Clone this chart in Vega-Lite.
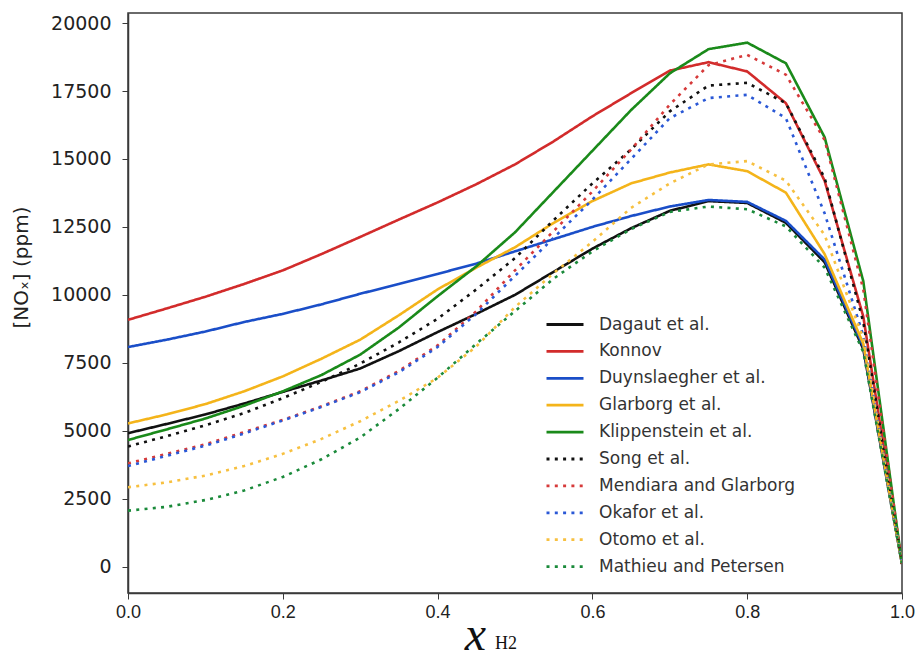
{
"$schema": "https://vega.github.io/schema/vega-lite/v6.json",
"width": 774, "height": 580,
"autosize": {"type": "none"},
"padding": {"left": 128, "top": 13, "right": 19, "bottom": 66},
"background": "white",
"config": {"view": {"stroke": "#3a3a3a", "strokeWidth": 1.5}, "axis": {"grid": false}},
"title": {"text": "H2", "orient": "bottom", "anchor": "start", "frame": "group", "dx": 367, "offset": -24, "font": "Liberation Serif", "fontSize": 18, "fontWeight": "normal", "color": "#111"},
"datasets": {"d": [
{"m":"Dagaut et al.","x":0,"y":4910},{"m":"Dagaut et al.","x":0.05,"y":5250},{"m":"Dagaut et al.","x":0.1,"y":5600},{"m":"Dagaut et al.","x":0.15,"y":6000},{"m":"Dagaut et al.","x":0.2,"y":6430},{"m":"Dagaut et al.","x":0.25,"y":6850},{"m":"Dagaut et al.","x":0.3,"y":7290},{"m":"Dagaut et al.","x":0.35,"y":7930},{"m":"Dagaut et al.","x":0.4,"y":8630},{"m":"Dagaut et al.","x":0.45,"y":9300},{"m":"Dagaut et al.","x":0.5,"y":10000},{"m":"Dagaut et al.","x":0.55,"y":10850},{"m":"Dagaut et al.","x":0.6,"y":11700},{"m":"Dagaut et al.","x":0.65,"y":12450},{"m":"Dagaut et al.","x":0.7,"y":13090},{"m":"Dagaut et al.","x":0.75,"y":13450},{"m":"Dagaut et al.","x":0.8,"y":13380},{"m":"Dagaut et al.","x":0.85,"y":12650},{"m":"Dagaut et al.","x":0.9,"y":11200},{"m":"Dagaut et al.","x":0.95,"y":8000},{"m":"Dagaut et al.","x":1,"y":100},
{"m":"Konnov","x":0,"y":9080},{"m":"Konnov","x":0.05,"y":9500},{"m":"Konnov","x":0.1,"y":9930},{"m":"Konnov","x":0.15,"y":10400},{"m":"Konnov","x":0.2,"y":10900},{"m":"Konnov","x":0.25,"y":11500},{"m":"Konnov","x":0.3,"y":12130},{"m":"Konnov","x":0.35,"y":12770},{"m":"Konnov","x":0.4,"y":13400},{"m":"Konnov","x":0.45,"y":14070},{"m":"Konnov","x":0.5,"y":14800},{"m":"Konnov","x":0.55,"y":15650},{"m":"Konnov","x":0.6,"y":16570},{"m":"Konnov","x":0.65,"y":17420},{"m":"Konnov","x":0.7,"y":18250},{"m":"Konnov","x":0.75,"y":18560},{"m":"Konnov","x":0.8,"y":18220},{"m":"Konnov","x":0.85,"y":17050},{"m":"Konnov","x":0.9,"y":14200},{"m":"Konnov","x":0.95,"y":9200},{"m":"Konnov","x":1,"y":100},
{"m":"Duynslaegher et al.","x":0,"y":8080},{"m":"Duynslaegher et al.","x":0.05,"y":8350},{"m":"Duynslaegher et al.","x":0.1,"y":8650},{"m":"Duynslaegher et al.","x":0.15,"y":9000},{"m":"Duynslaegher et al.","x":0.2,"y":9300},{"m":"Duynslaegher et al.","x":0.25,"y":9650},{"m":"Duynslaegher et al.","x":0.3,"y":10040},{"m":"Duynslaegher et al.","x":0.35,"y":10400},{"m":"Duynslaegher et al.","x":0.4,"y":10770},{"m":"Duynslaegher et al.","x":0.45,"y":11150},{"m":"Duynslaegher et al.","x":0.5,"y":11600},{"m":"Duynslaegher et al.","x":0.55,"y":12050},{"m":"Duynslaegher et al.","x":0.6,"y":12500},{"m":"Duynslaegher et al.","x":0.65,"y":12900},{"m":"Duynslaegher et al.","x":0.7,"y":13250},{"m":"Duynslaegher et al.","x":0.75,"y":13490},{"m":"Duynslaegher et al.","x":0.8,"y":13420},{"m":"Duynslaegher et al.","x":0.85,"y":12720},{"m":"Duynslaegher et al.","x":0.9,"y":11300},{"m":"Duynslaegher et al.","x":0.95,"y":8100},{"m":"Duynslaegher et al.","x":1,"y":100},
{"m":"Glarborg et al.","x":0,"y":5270},{"m":"Glarborg et al.","x":0.05,"y":5600},{"m":"Glarborg et al.","x":0.1,"y":5980},{"m":"Glarborg et al.","x":0.15,"y":6450},{"m":"Glarborg et al.","x":0.2,"y":7000},{"m":"Glarborg et al.","x":0.25,"y":7650},{"m":"Glarborg et al.","x":0.3,"y":8350},{"m":"Glarborg et al.","x":0.35,"y":9250},{"m":"Glarborg et al.","x":0.4,"y":10200},{"m":"Glarborg et al.","x":0.45,"y":11000},{"m":"Glarborg et al.","x":0.5,"y":11750},{"m":"Glarborg et al.","x":0.55,"y":12650},{"m":"Glarborg et al.","x":0.6,"y":13450},{"m":"Glarborg et al.","x":0.65,"y":14100},{"m":"Glarborg et al.","x":0.7,"y":14500},{"m":"Glarborg et al.","x":0.75,"y":14800},{"m":"Glarborg et al.","x":0.8,"y":14550},{"m":"Glarborg et al.","x":0.85,"y":13760},{"m":"Glarborg et al.","x":0.9,"y":11500},{"m":"Glarborg et al.","x":0.95,"y":8200},{"m":"Glarborg et al.","x":1,"y":100},
{"m":"Klippenstein et al.","x":0,"y":4660},{"m":"Klippenstein et al.","x":0.05,"y":5050},{"m":"Klippenstein et al.","x":0.1,"y":5450},{"m":"Klippenstein et al.","x":0.15,"y":5920},{"m":"Klippenstein et al.","x":0.2,"y":6450},{"m":"Klippenstein et al.","x":0.25,"y":7050},{"m":"Klippenstein et al.","x":0.3,"y":7800},{"m":"Klippenstein et al.","x":0.35,"y":8800},{"m":"Klippenstein et al.","x":0.4,"y":9950},{"m":"Klippenstein et al.","x":0.45,"y":11050},{"m":"Klippenstein et al.","x":0.5,"y":12300},{"m":"Klippenstein et al.","x":0.55,"y":13800},{"m":"Klippenstein et al.","x":0.6,"y":15300},{"m":"Klippenstein et al.","x":0.65,"y":16800},{"m":"Klippenstein et al.","x":0.7,"y":18150},{"m":"Klippenstein et al.","x":0.75,"y":19040},{"m":"Klippenstein et al.","x":0.8,"y":19280},{"m":"Klippenstein et al.","x":0.85,"y":18520},{"m":"Klippenstein et al.","x":0.9,"y":15800},{"m":"Klippenstein et al.","x":0.95,"y":10500},{"m":"Klippenstein et al.","x":1,"y":100},
{"m":"Song et al.","x":0,"y":4420},{"m":"Song et al.","x":0.05,"y":4800},{"m":"Song et al.","x":0.1,"y":5200},{"m":"Song et al.","x":0.15,"y":5650},{"m":"Song et al.","x":0.2,"y":6200},{"m":"Song et al.","x":0.25,"y":6800},{"m":"Song et al.","x":0.3,"y":7470},{"m":"Song et al.","x":0.35,"y":8250},{"m":"Song et al.","x":0.4,"y":9120},{"m":"Song et al.","x":0.45,"y":10200},{"m":"Song et al.","x":0.5,"y":11350},{"m":"Song et al.","x":0.55,"y":12750},{"m":"Song et al.","x":0.6,"y":14100},{"m":"Song et al.","x":0.65,"y":15350},{"m":"Song et al.","x":0.7,"y":16750},{"m":"Song et al.","x":0.75,"y":17700},{"m":"Song et al.","x":0.8,"y":17800},{"m":"Song et al.","x":0.85,"y":17050},{"m":"Song et al.","x":0.9,"y":14300},{"m":"Song et al.","x":0.95,"y":9000},{"m":"Song et al.","x":1,"y":100},
{"m":"Mendiara and Glarborg","x":0,"y":3800},{"m":"Mendiara and Glarborg","x":0.05,"y":4150},{"m":"Mendiara and Glarborg","x":0.1,"y":4500},{"m":"Mendiara and Glarborg","x":0.15,"y":4950},{"m":"Mendiara and Glarborg","x":0.2,"y":5400},{"m":"Mendiara and Glarborg","x":0.25,"y":5900},{"m":"Mendiara and Glarborg","x":0.3,"y":6450},{"m":"Mendiara and Glarborg","x":0.35,"y":7200},{"m":"Mendiara and Glarborg","x":0.4,"y":8140},{"m":"Mendiara and Glarborg","x":0.45,"y":9400},{"m":"Mendiara and Glarborg","x":0.5,"y":10900},{"m":"Mendiara and Glarborg","x":0.55,"y":12350},{"m":"Mendiara and Glarborg","x":0.6,"y":13800},{"m":"Mendiara and Glarborg","x":0.65,"y":15350},{"m":"Mendiara and Glarborg","x":0.7,"y":17000},{"m":"Mendiara and Glarborg","x":0.75,"y":18450},{"m":"Mendiara and Glarborg","x":0.8,"y":18830},{"m":"Mendiara and Glarborg","x":0.85,"y":18100},{"m":"Mendiara and Glarborg","x":0.9,"y":15700},{"m":"Mendiara and Glarborg","x":0.95,"y":10200},{"m":"Mendiara and Glarborg","x":1,"y":100},
{"m":"Okafor et al.","x":0,"y":3700},{"m":"Okafor et al.","x":0.05,"y":4080},{"m":"Okafor et al.","x":0.1,"y":4450},{"m":"Okafor et al.","x":0.15,"y":4900},{"m":"Okafor et al.","x":0.2,"y":5380},{"m":"Okafor et al.","x":0.25,"y":5880},{"m":"Okafor et al.","x":0.3,"y":6420},{"m":"Okafor et al.","x":0.35,"y":7150},{"m":"Okafor et al.","x":0.4,"y":8080},{"m":"Okafor et al.","x":0.45,"y":9300},{"m":"Okafor et al.","x":0.5,"y":10700},{"m":"Okafor et al.","x":0.55,"y":12100},{"m":"Okafor et al.","x":0.6,"y":13500},{"m":"Okafor et al.","x":0.65,"y":15000},{"m":"Okafor et al.","x":0.7,"y":16500},{"m":"Okafor et al.","x":0.75,"y":17240},{"m":"Okafor et al.","x":0.8,"y":17360},{"m":"Okafor et al.","x":0.85,"y":16500},{"m":"Okafor et al.","x":0.9,"y":13000},{"m":"Okafor et al.","x":0.95,"y":8500},{"m":"Okafor et al.","x":1,"y":100},
{"m":"Otomo et al.","x":0,"y":2920},{"m":"Otomo et al.","x":0.05,"y":3100},{"m":"Otomo et al.","x":0.1,"y":3350},{"m":"Otomo et al.","x":0.15,"y":3700},{"m":"Otomo et al.","x":0.2,"y":4150},{"m":"Otomo et al.","x":0.25,"y":4700},{"m":"Otomo et al.","x":0.3,"y":5350},{"m":"Otomo et al.","x":0.35,"y":6100},{"m":"Otomo et al.","x":0.4,"y":6950},{"m":"Otomo et al.","x":0.45,"y":8100},{"m":"Otomo et al.","x":0.5,"y":9550},{"m":"Otomo et al.","x":0.55,"y":10800},{"m":"Otomo et al.","x":0.6,"y":11950},{"m":"Otomo et al.","x":0.65,"y":13200},{"m":"Otomo et al.","x":0.7,"y":14100},{"m":"Otomo et al.","x":0.75,"y":14800},{"m":"Otomo et al.","x":0.8,"y":14920},{"m":"Otomo et al.","x":0.85,"y":14200},{"m":"Otomo et al.","x":0.9,"y":12200},{"m":"Otomo et al.","x":0.95,"y":8400},{"m":"Otomo et al.","x":1,"y":100},
{"m":"Mathieu and Petersen","x":0,"y":2060},{"m":"Mathieu and Petersen","x":0.05,"y":2200},{"m":"Mathieu and Petersen","x":0.1,"y":2450},{"m":"Mathieu and Petersen","x":0.15,"y":2800},{"m":"Mathieu and Petersen","x":0.2,"y":3300},{"m":"Mathieu and Petersen","x":0.25,"y":3950},{"m":"Mathieu and Petersen","x":0.3,"y":4750},{"m":"Mathieu and Petersen","x":0.35,"y":5800},{"m":"Mathieu and Petersen","x":0.4,"y":6950},{"m":"Mathieu and Petersen","x":0.45,"y":8200},{"m":"Mathieu and Petersen","x":0.5,"y":9400},{"m":"Mathieu and Petersen","x":0.55,"y":10600},{"m":"Mathieu and Petersen","x":0.6,"y":11600},{"m":"Mathieu and Petersen","x":0.65,"y":12420},{"m":"Mathieu and Petersen","x":0.7,"y":13050},{"m":"Mathieu and Petersen","x":0.75,"y":13250},{"m":"Mathieu and Petersen","x":0.8,"y":13150},{"m":"Mathieu and Petersen","x":0.85,"y":12520},{"m":"Mathieu and Petersen","x":0.9,"y":11000},{"m":"Mathieu and Petersen","x":0.95,"y":7900},{"m":"Mathieu and Petersen","x":1,"y":100}
]},
"data": {"name": "d"},
"mark": {"type": "line", "strokeWidth": 2.6, "clip": true},
"encoding": {
"x": {"field": "x", "type": "quantitative", "scale": {"domain": [0, 1], "nice": false, "zero": false},
 "axis": {"values": [0, 0.2, 0.4, 0.6, 0.8, 1.0], "format": ".1f", "title": "x", "titleFont": "Liberation Serif", "titleFontStyle": "italic", "titleFontWeight": "normal", "titleFontSize": 48, "titleColor": "#111", "titleX": 347, "titleY": 56, "titleBaseline": "alphabetic", "titleAnchor": "start", "titleAlign": "center",
  "labelFont": "Liberation Sans", "labelFontSize": 18, "labelColor": "#222", "labelPadding": 4, "tickSize": 6, "tickColor": "#3a3a3a", "domainColor": "#3a3a3a", "domainWidth": 1.5, "labelFlush": false}},
"y": {"field": "y", "type": "quantitative", "scale": {"domain": [-970, 20370], "nice": false, "zero": false},
 "axis": {"values": [0, 2500, 5000, 7500, 10000, 12500, 15000, 17500, 20000], "format": "d", "title": "[NOₓ] (ppm)", "titleFont": "DejaVu Sans", "titleFontWeight": "normal", "titleFontSize": 20, "titleColor": "#222", "titleX": -107, "titleY": 254, "titleAlign": "center", "titleAngle": -90, "titleBaseline": "middle",
  "labelFont": "DejaVu Sans", "labelFontSize": 19, "labelColor": "#222", "labelPadding": 11, "tickSize": 6, "tickColor": "#3a3a3a", "domainColor": "#3a3a3a", "domainWidth": 1.5}},
"color": {"field": "m", "type": "nominal",
 "scale": {"domain": ["Dagaut et al.", "Konnov", "Duynslaegher et al.", "Glarborg et al.", "Klippenstein et al.", "Song et al.", "Mendiara and Glarborg", "Okafor et al.", "Otomo et al.", "Mathieu and Petersen"],
  "range": ["#111111", "#d22b2b", "#1a4ec8", "#f4b41a", "#1a8a1a", "#111111", "#d63a3a", "#2a58d6", "#f7c040", "#1a8a3a"]},
 "legend": {"orient": "none", "legendX": 417, "legendY": 299, "title": null, "symbolType": "stroke", "symbolSize": 1369, "symbolStrokeWidth": 2.8, "labelFont": "DejaVu Sans", "labelFontSize": 17, "labelColor": "#333", "labelLimit": 400, "clipHeight": 25, "rowPadding": 1.9, "labelOffset": 14, "padding": 0}},
"strokeDash": {"field": "m", "type": "nominal",
 "scale": {"domain": ["Dagaut et al.", "Konnov", "Duynslaegher et al.", "Glarborg et al.", "Klippenstein et al.", "Song et al.", "Mendiara and Glarborg", "Okafor et al.", "Otomo et al.", "Mathieu and Petersen"],
  "range": [[1, 0], [1, 0], [1, 0], [1, 0], [1, 0], [3, 5.3], [3, 5.3], [3, 5.3], [3, 5.3], [3, 5.3]]},
 "legend": {"orient": "none", "legendX": 417, "legendY": 299, "title": null, "labelLimit": 400}}
}
}
